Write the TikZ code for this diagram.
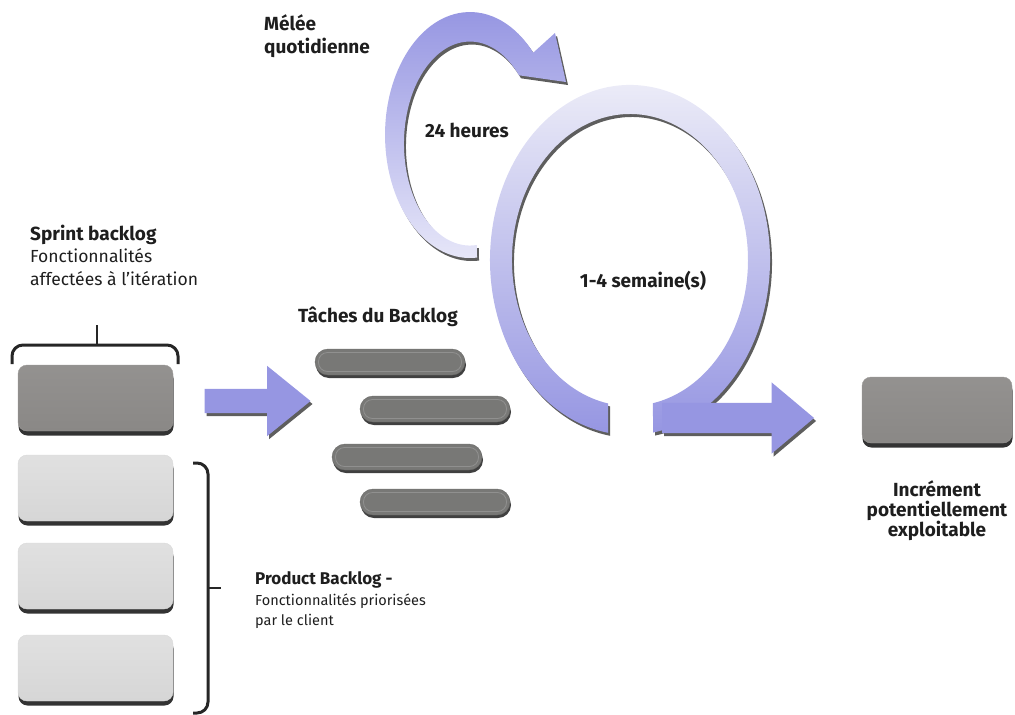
\documentclass[tikz,border=0pt]{standalone}
\usepackage{fontspec}
\setmainfont{Fira Sans}
\usetikzlibrary{shadows,shapes.arrows}

\definecolor{lav}{RGB}{150,150,226}
\definecolor{lavpale}{RGB}{238,238,248}
\definecolor{cardgrey}{RGB}{138,136,134}
\definecolor{cardlight}{RGB}{214,214,214}
\definecolor{bargrey}{RGB}{120,120,118}
\definecolor{ink}{RGB}{30,30,30}

\begin{document}
\begin{tikzpicture}[x=1pt,y=-1pt,
  lbl/.style={text=ink, inner sep=0pt, font=\fontsize{17.5}{21}\selectfont},
  lblb/.style={text=ink, inner sep=0pt, font=\fontsize{19}{22}\selectfont\bfseries},
  small/.style={text=ink, inner sep=0pt, font=\fontsize{14.5}{20}\selectfont},
  smallb/.style={text=ink, inner sep=0pt, font=\fontsize{17}{20}\selectfont\bfseries},
  deep/.style={drop shadow={shadow xshift=0.5pt, shadow yshift=-4.5pt, fill=black!80, opacity=1}},
  soft/.style={drop shadow={shadow xshift=2pt, shadow yshift=-3pt, fill=black!70, opacity=0.9}},
  card/.style={rounded corners=9pt, minimum width=155pt, minimum height=66pt, inner sep=0pt, deep},
  darkcard/.style={card, top color=cardgrey!92!white, bottom color=cardgrey, draw=cardgrey!85!white},
  lightcard/.style={card, top color=cardlight!75!white, bottom color=cardlight, draw=white!85!black},
  taskbar/.style={rounded corners=13pt, minimum width=150pt, minimum height=26pt, inner sep=0pt,
    fill=bargrey, draw=bargrey!90!black,
    drop shadow={shadow xshift=1pt, shadow yshift=-3pt, fill=black!75, opacity=1},
    path picture={\draw[bargrey!82!white, line width=0.8pt, rounded corners=9pt]
      ([shift={(3.5pt,3.5pt)}]path picture bounding box.south west) rectangle
      ([shift={(-3.5pt,-3.5pt)}]path picture bounding box.north east);}},
  fat/.style={single arrow, fill=lav, draw=none, inner xsep=0pt, soft, single arrow head indent=0pt},
  brace/.style={line width=3pt, draw=black!85, rounded corners=11pt},
]
\useasboundingbox (0,0) rectangle (1015,715);

% backlog cards
\node[darkcard]  (sprint) at (95.5,398) {};
\node[lightcard] (pb1)    at (95.5,488) {};
\node[lightcard] (pb2)    at (95.5,576) {};
\node[lightcard] (pb3)    at (95.5,668) {};

% brackets
\draw[brace] (12,364) |- (178,345) -- (178,364);
\draw[line width=2.5pt, black!85] (97,345) -- (97,325);
\draw[brace] (193,463) -| (208,713) -- (193,713);
\draw[line width=2.5pt, black!85] (208,588) -- (221,588);

% task bars
\node[taskbar] (t1) at (390,362) {};
\node[taskbar] (t2) at (435,409) {};
\node[taskbar] (t3) at (407,457) {};
\node[taskbar] (t4) at (435,502) {};

% increment
\node[darkcard, minimum width=150pt] (inc) at (937,410) {};

% sprint backlog to tasks
\node[fat, minimum height=106pt, inner ysep=12pt, single arrow head extend=23pt,
      single arrow tip angle=78] (push) at (250,401) {};

% sprint cycle ring
\path[soft, top color=lavpale, middle color=lav!55!white, bottom color=lav]
  (608.1,432.8) arc[start angle=99, end angle=440.5, x radius=140, y radius=175]
  -- (652.9,403.2) arc[start angle=438.8, end angle=100.7, x radius=118, y radius=146]
  -- cycle;
\node[fat, minimum height=152pt, inner ysep=15pt, single arrow head extend=20.5pt,
      single arrow tip angle=80] (ship) at (729,418) {};

% daily cycle arc
\path[soft, top color=lav, middle color=lav!85!white, bottom color=lav!22!white]
  (477,257.6) arc[start angle=85.3, end angle=318, x radius=85, y radius=123]
  -- (555,33) -- (566,82) -- (524,76) -- (519,75.3)
  arc[start angle=318, end angle=83.9, x radius=66, y radius=102] -- cycle;

% labels
\node[lblb, anchor=base west] (sbt) at (30,240) {Sprint backlog};
\node[lbl,  anchor=base west] (sb1) at (30,262) {Fonctionnalités};
\node[lbl,  anchor=base west] (sb2) at (30,285) {affectées à l’itération};
\node[lblb, anchor=base west] (mel1) at (264,30) {Mélée};
\node[lblb, anchor=base west] (mel2) at (264,53) {quotidienne};
\node[lblb] (day) at (467,130) {24 heures};
\node[lblb] (len) at (643,281) {1-4 semaine(s)};
\node[lblb, anchor=base west] (tasks) at (298,322) {Tâches du Backlog};
\node[smallb, anchor=base west] (pbt) at (255,584) {Product Backlog -};
\node[small,  anchor=base west] (pbl1) at (255,605) {Fonctionnalités priorisées};
\node[small,  anchor=base west] (pbl2) at (255,625) {par le client};
\node[lblb, anchor=base] (inc1) at (937,496) {Incrément};
\node[lblb, anchor=base] (inc2) at (937,516) {potentiellement};
\node[lblb, anchor=base] (inc3) at (937,536) {exploitable};
\end{tikzpicture}
\end{document}
